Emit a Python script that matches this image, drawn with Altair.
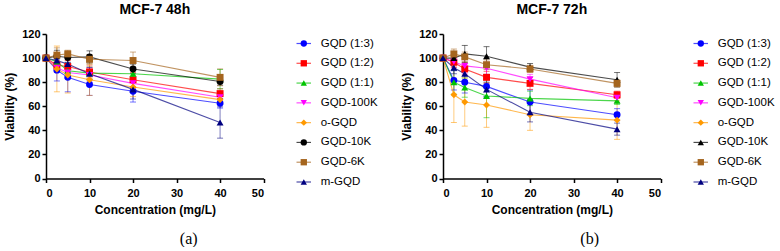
import altair as alt
import pandas as pd

CONC = [0, 2.5, 5, 10, 20, 40]
SERIES = ["GQD (1:3)", "GQD (1:2)", "GQD (1:1)", "GQD-100K", "o-GQD", "GQD-10K", "GQD-6K", "m-GQD"]
COLORS = ["#0000FF", "#FF0000", "#00C400", "#FF00FF", "#FF9900", "#000000", "#A5651E", "#000080"]
SHAPES_48 = ["circle", "square", "triangle-up", "triangle-down", "diamond", "circle", "square", "triangle-up"]
SHAPES_72 = ["circle", "square", "triangle-up", "triangle-down", "diamond", "triangle-up", "square", "triangle-up"]

MEAN_48 = {
    "GQD (1:3)": [100, 90, 84, 78, 72.5, 62.5],
    "GQD (1:2)": [100, 94, 93, 88.5, 82, 70.5],
    "GQD (1:1)": [100, 97, 89.5, 87.5, 87, 82.5],
    "GQD-100K": [100, 92, 88, 86, 79, 67.5],
    "o-GQD": [100, 91, 86, 82, 76, 65.5],
    "GQD-10K": [100, 101.5, 100.5, 101, 91, 80.5],
    "GQD-6K": [100, 102.5, 103.5, 99, 98, 84],
    "m-GQD": [100, 98, 95, 87, 74, 46.5],
}
SD_48 = {
    "GQD (1:3)": [0, 9, 12, 9, 9, 4],
    "GQD (1:2)": [0, 4, 5, 5, 6, 4],
    "GQD (1:1)": [0, 4, 4, 5, 4, 8],
    "GQD-100K": [0, 4, 5, 6, 5, 4],
    "o-GQD": [0, 19, 15, 13, 8, 4],
    "GQD-10K": [0, 5, 4, 5, 4, 3],
    "GQD-6K": [0, 6, 3, 4, 7, 7],
    "m-GQD": [0, 3, 6, 5, 8, 13],
}
MEAN_72 = {
    "GQD (1:3)": [100, 81.5, 80, 76.5, 63.5, 53],
    "GQD (1:2)": [100, 96.5, 91, 84, 79, 69.5],
    "GQD (1:1)": [100, 80, 75.5, 68.5, 66.5, 64.5],
    "GQD-100K": [100, 97, 93.5, 91.5, 82.5, 67],
    "o-GQD": [100, 69.5, 63.5, 61, 53, 48.5],
    "GQD-10K": [100, 100, 103.5, 101.5, 92.5, 82],
    "GQD-6K": [100, 103.5, 101, 94.5, 91, 79],
    "m-GQD": [100, 92, 87, 74, 55, 41],
}
SD_72 = {
    "GQD (1:3)": [0, 8, 9, 9, 10, 5],
    "GQD (1:2)": [0, 4, 5, 5, 5, 3],
    "GQD (1:1)": [0, 10, 8, 18, 6, 3],
    "GQD-100K": [0, 5, 6, 5, 4, 4],
    "o-GQD": [0, 23, 20, 18.5, 13, 16],
    "GQD-10K": [0, 5, 7, 8, 3, 6],
    "GQD-6K": [0, 4, 4, 4, 3, 3],
    "m-GQD": [0, 5, 6, 6, 8, 5],
}

FONT = "Liberation Sans"


def frame(means, sds):
    rows = []
    for i, s in enumerate(SERIES):
        for c, m, d in zip(CONC, means[s], sds[s]):
            rows.append(dict(series=s, order=i, conc=c, mean=m, lo=m - d, hi=m + d))
    return pd.DataFrame(rows)


def panel(df, shapes, title):
    color = alt.Color("series:N", scale=alt.Scale(domain=SERIES, range=COLORS), legend=None)
    shape = alt.Shape("series:N", scale=alt.Scale(domain=SERIES, range=shapes), legend=None)
    xs = alt.Scale(domain=[0, 50], nice=False, zero=False)
    ys = alt.Scale(domain=[0, 120], nice=False)
    xa = alt.Axis(values=[0, 10, 20, 30, 40, 50], title="Concentration (mg/L)")
    ya = alt.Axis(values=[0, 20, 40, 60, 80, 100, 120], title="Viability (%)")
    x = alt.X("conc:Q", scale=xs, axis=xa)
    base = alt.Chart(df)
    err = base.mark_rule(strokeWidth=1, opacity=0.5).encode(
        x=x, y=alt.Y("lo:Q", scale=ys, axis=ya), y2="hi:Q", color=color)
    caps = base.transform_fold(["lo", "hi"], as_=["end", "val"]).mark_tick(
        orient="horizontal", size=6, thickness=1, opacity=0.55).encode(
        x=x, y=alt.Y("val:Q", scale=ys, axis=ya), color=color)
    line = base.mark_line(strokeWidth=1.1, opacity=0.7).encode(
        x=x, y=alt.Y("mean:Q", scale=ys, axis=ya), color=color, order="conc:Q")
    pts = base.mark_point(filled=True, size=48, opacity=1).encode(
        x=x, y=alt.Y("mean:Q", scale=ys, axis=ya), color=color, shape=shape)
    return alt.layer(err, caps, line, pts).properties(
        width=217.6, height=144.5,
        title=alt.TitleParams(title, fontSize=14, fontWeight="bold", font=FONT, offset=11, color="black"))


def legend_chart(shapes, label, width, dx):
    ldf = pd.DataFrame({"series": SERIES})
    y = alt.Y("series:N", scale=alt.Scale(type="point", domain=SERIES, range=[9.5, 148], padding=0), axis=None)
    color = alt.Color("series:N", scale=alt.Scale(domain=SERIES, range=COLORS), legend=None)
    shape = alt.Shape("series:N", scale=alt.Scale(domain=SERIES, range=shapes), legend=None)
    rule = alt.Chart(ldf).mark_rule(strokeWidth=1.2, opacity=0.7).encode(
        x=alt.value(22.5), x2=alt.value(37), y=y, color=color)
    pts = alt.Chart(ldf).mark_point(filled=True, size=40, opacity=1).encode(
        x=alt.value(29.8), y=y, color=color, shape=shape)
    txt = alt.Chart(ldf).mark_text(align="left", baseline="middle", font=FONT, fontSize=11.5, color="black").encode(
        x=alt.value(46.7), y=y, text="series:N")
    return alt.layer(rule, pts, txt).properties(
        width=width, height=144.5,
        title=alt.TitleParams(label, orient="bottom", anchor="start", align="center", dx=dx,
                              font="Liberation Serif", fontSize=16, fontWeight="normal", offset=43, color="black"))


p1 = panel(frame(MEAN_48, SD_48), SHAPES_48, "MCF-7 48h")
l1 = legend_chart(SHAPES_48, "(a)", 158.4, -85.3)
p2 = panel(frame(MEAN_72, SD_72), SHAPES_72, "MCF-7 72h")
l2 = legend_chart(SHAPES_72, "(b)", 105, -81.3)

chart = alt.hconcat(p1, l1, p2, l2, spacing=10, bounds="flush").resolve_scale(
    x="independent", y="independent", color="independent", shape="independent"
).properties(padding={"left": 3, "top": 3, "right": 0, "bottom": 0}).configure_view(stroke=None).configure_axis(
    grid=False, domainColor="black", domainWidth=1.5, tickColor="black", tickWidth=1.5, tickSize=4,
    labelFont=FONT, labelFontSize=11, labelFontWeight="bold", labelColor="black", labelPadding=2,
    titleFont=FONT, titleFontSize=12, titleFontWeight="bold", titleColor="black", titlePadding=5,
).configure_axisX(labelPadding=5, titlePadding=6)

chart.save("out.html", embed_options={"renderer": "svg", "actions": False})
